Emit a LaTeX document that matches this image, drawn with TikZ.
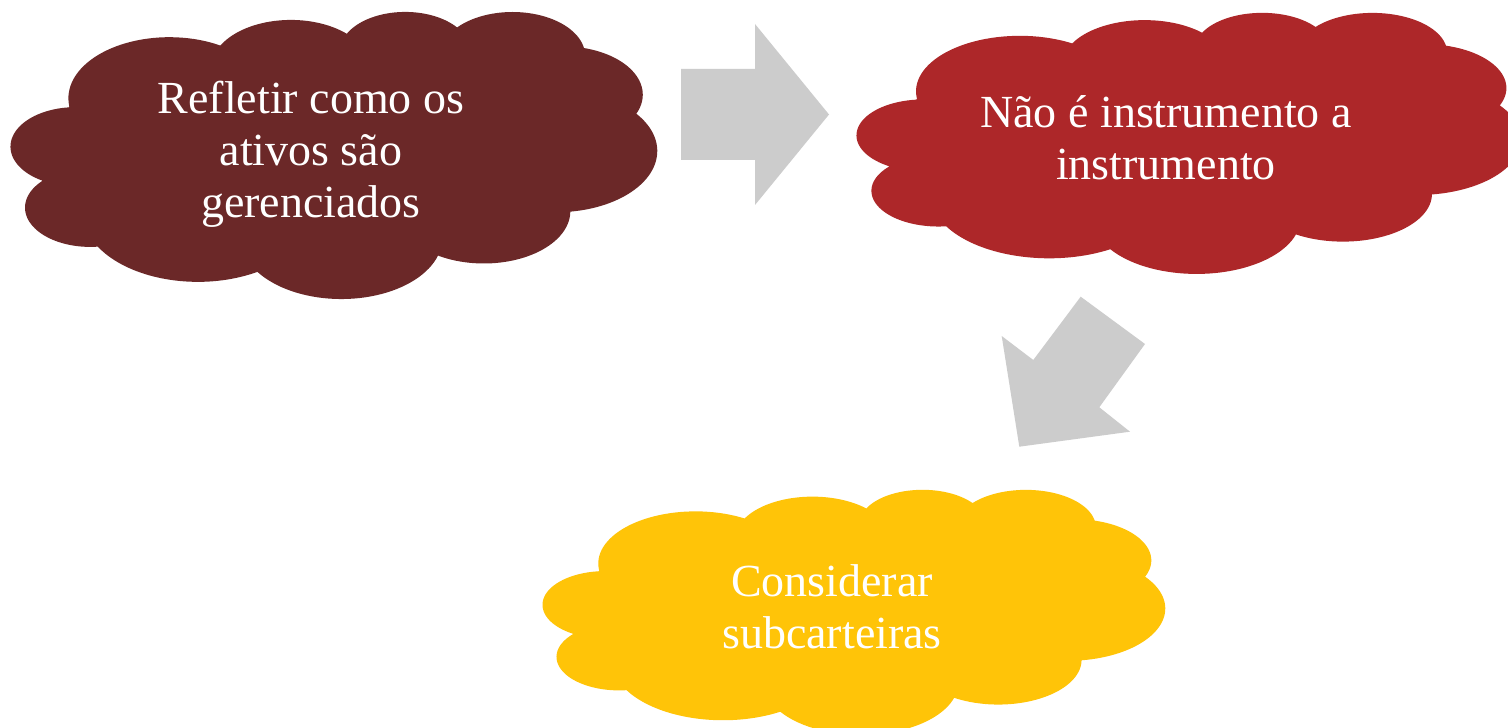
\documentclass[tikz,border=0pt]{standalone}
\usepackage{fontspec}
\setmainfont{Liberation Serif}

\definecolor{cloudbrown}{RGB}{107,40,40}
\definecolor{cloudred}{RGB}{173,39,41}
\definecolor{cloudyellow}{RGB}{255,196,8}
\definecolor{arrowgrey}{RGB}{204,204,204}

\makeatletter
% Cloud outline in a 43.2 x 43.2 box with y pointing down.
% Each lobe is an elliptical arc: radii, start angle and sweep (angles of the
% ray from the centre); they are turned into parametric angles and chained.
\def\cld@px{3.9}\def\cld@py{14.37}
\gdef\cldpath{(3.9,14.37)}
\newcommand\cldarc[4]{%
  \pgfmathsetmacro\cld@ta{atan2(#1*sin(#3),#2*cos(#3))}%
  \pgfmathsetmacro\cld@tb{atan2(#1*sin(#3+#4),#2*cos(#3+#4))}%
  \pgfmathsetmacro\cld@tb{\cld@tb+360*(\cld@tb<\cld@ta)}%
  \pgfmathsetmacro\cld@cx{\cld@px-#1*cos(\cld@ta)}%
  \pgfmathsetmacro\cld@cy{\cld@py-#2*sin(\cld@ta)}%
  \pgfmathsetmacro\cld@px{\cld@cx+#1*cos(\cld@tb)}%
  \pgfmathsetmacro\cld@py{\cld@cy+#2*sin(\cld@tb)}%
  \xdef\cldpath{\unexpanded\expandafter{\cldpath}
    -- plot[domain=\cld@ta:\cld@tb] ({\cld@cx+#1*cos(\noexpand\x)},{\cld@cy+#2*sin(\noexpand\x)})}%
}
\cldarc{6.753}{9.190}{-190.48748}{123.78053}
\cldarc{5.333}{7.267}{-144.10238}{89.94523}
\cldarc{4.365}{5.945}{-145.80792}{99.72302}
\cldarc{4.857}{6.595}{-130.98607}{117.24173}
\cldarc{5.333}{7.273}{-78.70888}{109.02692}
\cldarc{6.775}{9.220}{-46.26725}{130.26900}
\cldarc{5.785}{7.867}{0.62502}{114.03333}
\cldarc{6.752}{9.215}{22.45160}{115.17255}
\cldarc{7.720}{10.543}{66.24263}{75.71102}
\cldarc{4.360}{5.918}{-274.94208}{146.73557}
\cldarc{4.345}{5.945}{-246.82850}{152.51885}
\makeatother

% left, top, width, height (in px of the layout grid), fill colour
\newcommand\cloudshape[5]{%
  \pgfmathsetmacro\cldX{#1*0.025}%
  \pgfmathsetmacro\cldY{-#2*0.025}%
  \pgfmathsetmacro\cldW{#3*0.025/43.2}%
  \pgfmathsetmacro\cldH{-#4*0.025/43.2}%
  \begin{scope}[xshift=\cldX cm, yshift=\cldY cm, x=\cldW cm, y=\cldH cm, samples=40]
    \fill[#5] \cldpath -- cycle;
  \end{scope}}

\tikzset{
  cloudtext/.style={text=white, align=center, inner sep=0pt,
    font=\fontsize{32.7pt}{37pt}\selectfont},
  blockarrow/.style={fill=arrowgrey}
}

\begin{document}
\begin{tikzpicture}[x=0.025cm, y=-0.025cm]
  \useasboundingbox (0,0) rectangle (1508,728);
  \fill[white] (0,0) rectangle (1508,728);
  \clip (0,0) rectangle (1508,728);

  % clouds
  \cloudshape{11}{11}{646}{287}{cloudbrown}
  \cloudshape{857}{12}{664}{261}{cloudred}
  \cloudshape{543}{489}{622}{245}{cloudyellow}

  % texts
  \node[cloudtext] (reflect) at (311,154) {Refletir como os\\ativos são\\gerenciados};
  \node[cloudtext] (instr) at (1166,138) {Não é instrumento a\\instrumento};
  \node[cloudtext] (sub) at (832,607) {Considerar\\subcarteiras};

  % block arrows
  \fill[blockarrow] (681,69) -- (755,69) -- (755,24) -- (829,114.5)
    -- (755,205) -- (755,160) -- (681,160) -- cycle;
  \fill[blockarrow] (1080.7,296.7) -- (1145,344) -- (1099.3,407.3)
    -- (1130,431.7) -- (1019.3,446.7) -- (1001.7,336) -- (1033.3,360) -- cycle;
\end{tikzpicture}
\end{document}
